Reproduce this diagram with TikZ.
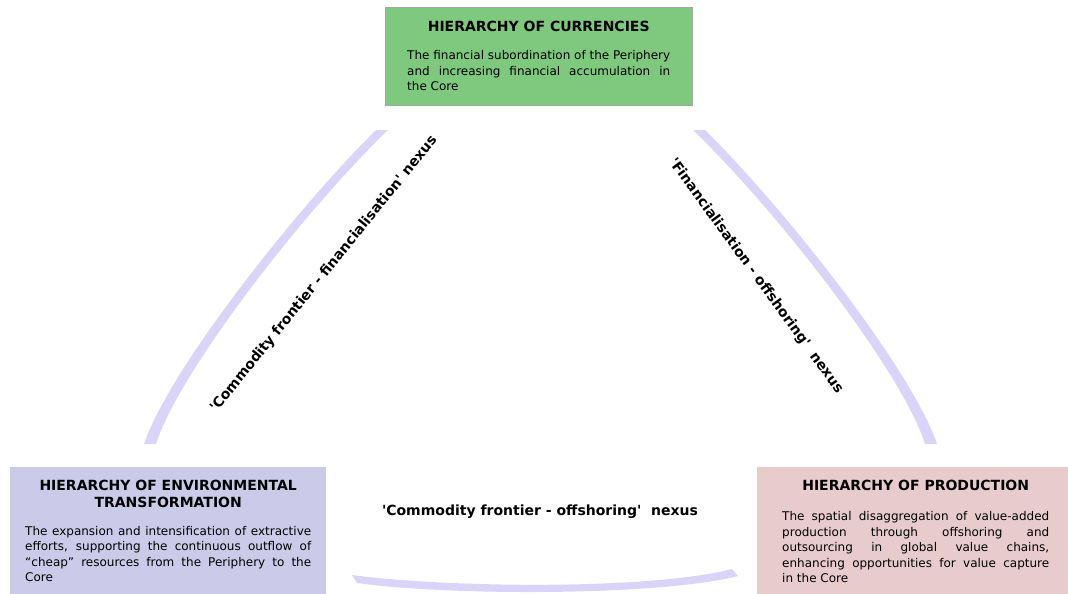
\documentclass[tikz,border=0pt]{standalone}
\usepackage{fontspec}
\setmainfont{DejaVu Sans}
\definecolor{currencies}{RGB}{127,201,127}
\definecolor{environment}{RGB}{203,202,233}
\definecolor{production}{RGB}{232,204,205}
\definecolor{nexus}{RGB}{218,212,249}
\definecolor{boxline}{RGB}{165,165,165}
\hyphenpenalty=10000
\newcommand{\boxtitle}[2][12pt]{{\centering\fontsize{14}{17}\selectfont\bfseries #2\par}\vspace{#1}}
\newcommand{\q}{\textquotesingle}
\tikzstyle{hierarchy}=[anchor=north west, align=justify, font=\fontsize{12}{15.5}\selectfont]
\tikzset{nexuslabel/.style={font=\fontsize{14}{16}\selectfont\bfseries}}
\tikzset{nexusband/.style={fill=nexus, draw=none}}

\begin{document}
\begin{tikzpicture}[x=1pt,y=-1pt]
  \useasboundingbox (0,0) rectangle (1068,594);
  \clip (0,0) rectangle (1068,594);

  %% Hierarchies
  \draw (385,7) node[hierarchy,fill=currencies,draw=boxline,text width=263pt,inner xsep=22pt,inner ysep=14pt] (currencies) {\boxtitle[12.5pt]{HIERARCHY OF CURRENCIES}The financial subordination of the Periphery\linebreak and increasing financial accumulation in\linebreak the Core\par\vspace*{5pt}};
  \draw (10,467) node[hierarchy,fill=environment,text width=286pt,inner xsep=15pt,inner ysep=13pt] (environment) {\boxtitle[12pt]{HIERARCHY OF ENVIRONMENTAL TRANSFORMATION}The expansion and intensification of extractive\linebreak efforts, supporting the continuous outflow of\linebreak “cheap” resources from the Periphery to the\linebreak Core};
  \draw (757,467) node[hierarchy,fill=production,text width=267pt,inner xsep=25pt,inner ysep=13pt] (production) {\boxtitle[14.5pt]{HIERARCHY OF PRODUCTION}The spatial disaggregation of value-added\linebreak production through offshoring and\linebreak outsourcing in global value chains,\linebreak enhancing opportunities for value capture\linebreak in the Core};

  %% Nexus bands
  \coordinate (envtop) at (382,130);
  \coordinate (envbottom) at (150,444);
  \coordinate (prodtop) at (699,130);
  \coordinate (prodbottom) at (931,444);
  \fill[nexusband] (envbottom) ++(-6,0) .. controls (169,370) and (295,210) .. ([xshift=-6pt]envtop) -- ([xshift=6pt]envtop) .. controls (301,214) and (178,374) .. ([xshift=6pt]envbottom) -- cycle;
  \fill[nexusband] (prodbottom) ++(6,0) .. controls (912,370) and (786,210) .. ([xshift=6pt]prodtop) -- ([xshift=-6pt]prodtop) .. controls (780,214) and (903,374) .. ([xshift=-6pt]prodbottom) -- cycle;
  \fill[nexusband] (352,575) .. controls (450,588) and (650,590) .. (732,569) -- (738,576) .. controls (660,596) and (450,596) .. (357,583) -- cycle;

  %% Nexus labels
  \draw (324,274) node[nexuslabel,rotate=51] (finnexus) {\q Commodity frontier - financialisation\q{} nexus};
  \draw (756,276) node[nexuslabel,rotate=-54] (offnexus) {\q Financialisation - offshoring\q\ \ nexus};
  \draw (540,512) node[nexuslabel] (frontnexus) {\q Commodity frontier - offshoring\q\ \ nexus};
\end{tikzpicture}
\end{document}
